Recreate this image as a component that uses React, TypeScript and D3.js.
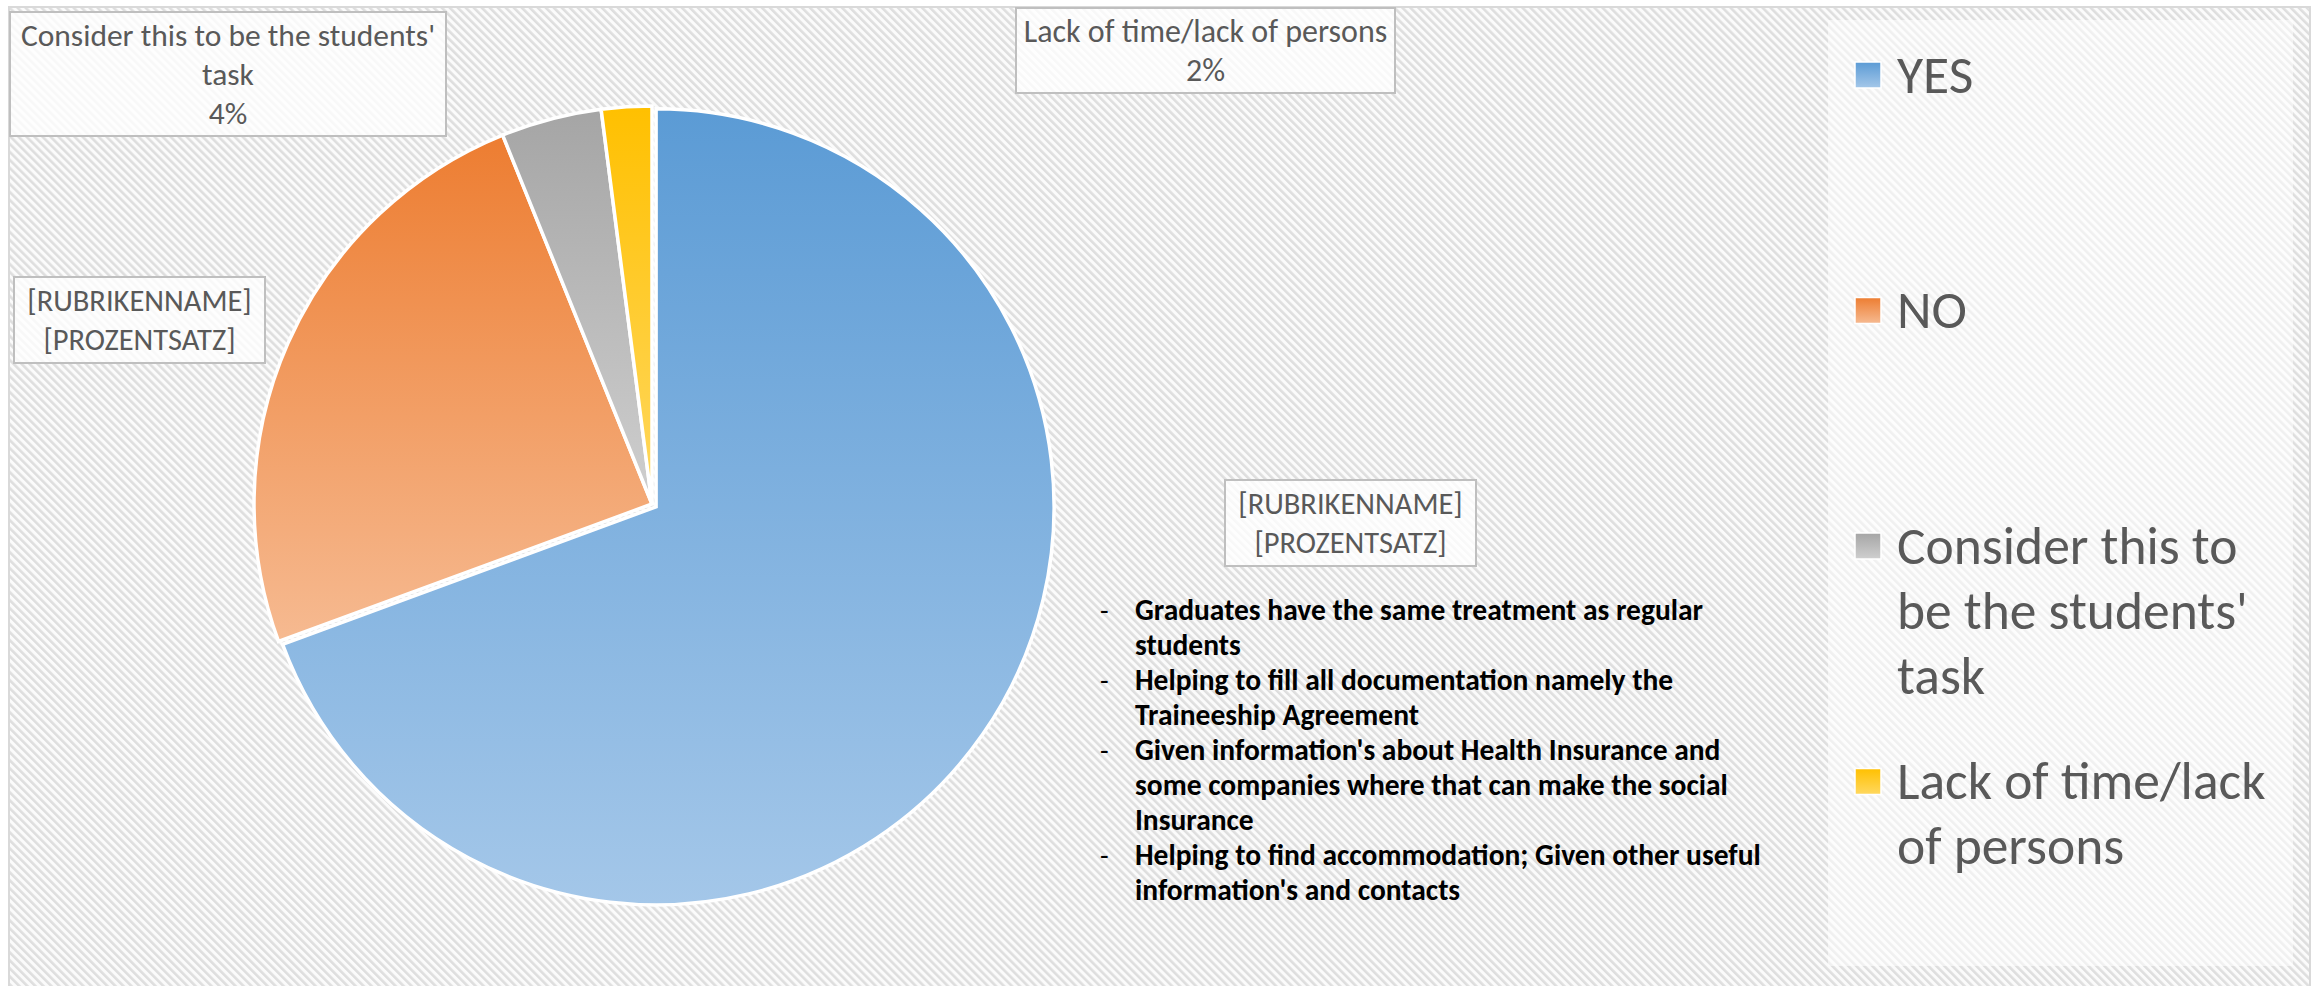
import React from "react";
import * as d3 from "d3";

const categories = ["YES", "NO", "Consider this to be the students' task", "Lack of time/lack of persons"];
const counts = [34, 12, 2, 1];
const legendLines = [["YES"], ["NO"], ["Consider this to", "be the students'", "task"], ["Lack of time/lack", "of persons"]];
const labelLines = [
  ["[RUBRIKENNAME]", "[PROZENTSATZ]"],
  ["[RUBRIKENNAME]", "[PROZENTSATZ]"],
  ["Consider this to be the students'", "task"],
  ["Lack of time/lack of persons"],
];
const showPercent = [false, false, true, true];
const notes = [
  ["Graduates have the same treatment as regular", "students"],
  ["Helping to fill all documentation namely the", "Traineeship Agreement"],
  ["Given information's about Health Insurance and", "some companies where that can make the social", "Insurance"],
  ["Helping to find accommodation; Given other useful", "information's and contacts"],
];

const baseColors = ["#5B9BD5", "#ED7D31", "#A5A5A5", "#FFC000"];
const lightColors = ["#A4C7E9", "#F6BA91", "#CFCFCF", "#FFD860"];

const W = 2315;
const H = 986;
const FONT = "Carlito, Calibri, Lato, 'Open Sans', sans-serif";

// label boxes layout (x, y, w, h)
const labelBoxes = [
  { x: 1225, y: 480, w: 251, h: 86 },
  { x: 14, y: 277, w: 251, h: 86 },
  { x: 10, y: 12, w: 436, h: 124 },
  { x: 1016, y: 8, w: 379, h: 85 },
];
const labelFont = [30.5, 30.5, 31.5, 32];

export default function App() {
  const cx = 652;
  const cy = 504;
  const r = 398;
  const total = d3.sum(counts);
  const pie = d3.pie<number>().sort(null).value((d) => d).startAngle(0).endAngle(2 * Math.PI);
  const arcs = pie(counts);
  const arc = d3.arc<d3.PieArcDatum<number>>().innerRadius(0).outerRadius(r);
  const explode = [5, 0, 0, 0];
  const fmt = (v: number) => `${Math.round((v / total) * 100)}%`;

  const labelLH = 39;
  const legendLH = 65;
  const legendY0 = 74;
  const legendStep = 235.5;

  return (
    <svg
      width={W}
      height={H}
      style={{ position: "absolute", left: 0, top: 0, display: "block" }}
      fontFamily={FONT}
    >
      <defs>
        <pattern
          id="hatch"
          width={5.66}
          height={5.66}
          patternUnits="userSpaceOnUse"
          patternTransform="rotate(-45)"
        >
          <rect width={5.66} height={5.66} fill="#fbfbfb" />
          <rect width={2.6} height={5.66} fill="#dedede" />
        </pattern>
        {baseColors.map((c, i) => (
          <linearGradient key={i} id={`g${i}`} x1="0" y1="0" x2="0" y2="1">
            <stop offset="0%" stopColor={c} />
            <stop offset="100%" stopColor={lightColors[i]} />
          </linearGradient>
        ))}
      </defs>

      <rect x={0} y={0} width={W} height={H} fill="#ffffff" />
      <rect x={9} y={7} width={2301} height={H} fill="url(#hatch)" stroke="#d9d9d9" strokeWidth={2} />

      {/* legend panel */}
      <rect x={1828} y={20} width={465} height={946} fill="rgba(255,255,255,0.55)" />

      {/* pie */}
      <g transform={`translate(${cx},${cy})`}>
        {arcs.map((a, i) => {
          const mid = (a.startAngle + a.endAngle) / 2;
          const dx = Math.sin(mid) * explode[i];
          const dy = -Math.cos(mid) * explode[i];
          return (
            <path
              key={i}
              d={arc(a) || ""}
              transform={`translate(${dx},${dy})`}
              fill={`url(#g${i})`}
              stroke="#ffffff"
              strokeWidth={3.5}
              strokeLinejoin="miter"
            />
          );
        })}
      </g>

      {/* data labels */}
      {labelBoxes.map((b, i) => {
        const lines = showPercent[i] ? [...labelLines[i], fmt(counts[i])] : labelLines[i];
        const n = lines.length;
        const c0 = b.y + b.h / 2 - ((n - 1) * labelLH) / 2;
        return (
          <g key={i}>
            <rect
              x={b.x}
              y={b.y}
              width={b.w}
              height={b.h}
              fill="rgba(255,255,255,0.78)"
              stroke="#bfbfbf"
              strokeWidth={2}
            />
            {lines.map((t, j) => (
              <text
                key={j}
                x={b.x + b.w / 2}
                y={c0 + j * labelLH}
                dy="0.35em"
                textAnchor="middle"
                fontSize={labelFont[i]}
                fill="#595959"
              >
                {t}
              </text>
            ))}
          </g>
        );
      })}

      {/* notes list */}
      {(() => {
        let k = 0;
        const out: React.ReactNode[] = [];
        notes.forEach((item, i) => {
          item.forEach((line, j) => {
            const y = 610 + k * 35;
            if (j === 0) {
              out.push(
                <text key={`d${i}`} x={1100} y={y} dy="0.35em" fontSize={28} fill="#000">
                  -
                </text>
              );
            }
            out.push(
              <text key={`n${i}-${j}`} x={1135} y={y} dy="0.35em" fontSize={29.5} fontWeight="bold" fill="#000">
                {line}
              </text>
            );
            k++;
          });
        });
        return out;
      })()}

      {/* legend */}
      {categories.map((c, i) => {
        const y0 = legendY0 + i * legendStep;
        return (
          <g key={c}>
            <rect x={1855} y={y0 - 12} width={26} height={26} fill={`url(#g${i})`} stroke="#ffffff" strokeWidth={1.5} />
            {legendLines[i].map((t, j) => (
              <text key={j} x={1897} y={y0 + j * legendLH} dy="0.35em" fontSize={53.5} fill="#595959">
                {t}
              </text>
            ))}
          </g>
        );
      })}
    </svg>
  );
}
